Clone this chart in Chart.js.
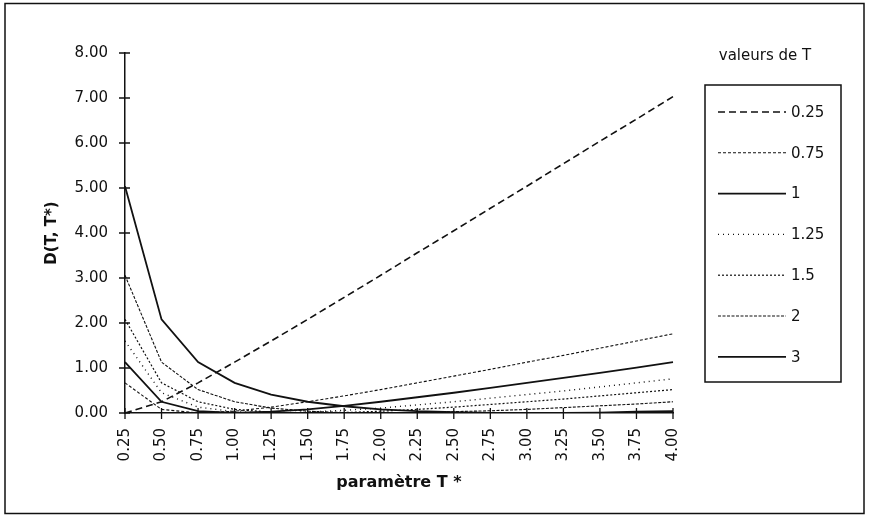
<!DOCTYPE html>
<html>
<head>
<meta charset="utf-8">
<script src="https://cdn.jsdelivr.net/npm/chart.js@4"></script>
<style>
  html, body { margin: 0; padding: 0; background: #fff; }
  #wrap { width: 869px; height: 520px; }
</style>
</head>
<body>
<div id="wrap"><canvas id="dChart" width="869" height="520"></canvas></div>
<script>
// valeurs
const tStarLabels = ['0.25', '0.50', '0.75', '1.00', '1.25', '1.50', '1.75', '2.00',
                     '2.25', '2.50', '2.75', '3.00', '3.25', '3.50', '3.75', '4.00'];
const seriesNames = ['0.25', '0.75', '1', '1.25', '1.5', '2', '3'];
const yTicks = [0, 1, 2, 3, 4, 5, 6, 7, 8];

const dT025 = [0, 0.25, 0.67, 1.13, 1.60, 2.08, 2.57, 3.06, 3.56, 4.05, 4.55, 5.04, 5.54, 6.04, 6.53, 7.03];
const dT075 = [0.67, 0.08, 0, 0.04, 0.13, 0.25, 0.38, 0.52, 0.67, 0.82, 0.97, 1.13, 1.28, 1.44, 1.60, 1.76];
const dT1   = [1.13, 0.25, 0.04, 0, 0.03, 0.08, 0.16, 0.25, 0.35, 0.45, 0.56, 0.67, 0.78, 0.89, 1.01, 1.13];
const dT125 = [1.60, 0.45, 0.13, 0.03, 0, 0.02, 0.06, 0.11, 0.18, 0.25, 0.33, 0.41, 0.49, 0.58, 0.67, 0.76];
const dT15  = [2.08, 0.67, 0.25, 0.08, 0.02, 0, 0.01, 0.04, 0.08, 0.13, 0.19, 0.25, 0.31, 0.38, 0.45, 0.52];
const dT2   = [3.06, 1.13, 0.52, 0.25, 0.11, 0.04, 0.01, 0, 0.01, 0.03, 0.05, 0.08, 0.12, 0.16, 0.20, 0.25];
const dT3   = [5.04, 2.08, 1.13, 0.67, 0.41, 0.25, 0.15, 0.08, 0.04, 0.02, 0, 0, 0, 0.01, 0.03, 0.04];

const FONT = "'DejaVu Sans', sans-serif";
const INK = '#111';

// styles des courbes (noir, tirets differents)
const lineStyles = [
  { dash: [7, 4], width: 1.6 },
  { dash: [3, 2], width: 1.1 },
  { dash: [], width: 1.8 },
  { dash: [1, 4], width: 1.4 },
  { dash: [2, 2], width: 1.2 },
  { dash: [3, 1.5], width: 1.1 },
  { dash: [], width: 1.8 }
];
const allSeries = [dT025, dT075, dT1, dT125, dT15, dT2, dT3];

const datasets = allSeries.map((vals, i) => ({
  label: seriesNames[i],
  data: vals,
  borderColor: INK,
  borderWidth: lineStyles[i].width,
  borderDash: lineStyles[i].dash,
  pointRadius: 0,
  fill: false,
  tension: 0
}));

// cadre exterieur, graduations croisees et legende encadree
const decorPlugin = {
  id: 'decor',
  beforeDraw(chart) {
    const c = chart.ctx;
    c.save();
    c.fillStyle = '#fff';
    c.fillRect(0, 0, chart.width, chart.height);
    c.restore();
  },
  afterDraw(chart) {
    const c = chart.ctx;
    const xs = chart.scales.x, ys = chart.scales.y;
    const area = chart.chartArea;
    c.save();
    c.strokeStyle = INK;
    c.setLineDash([]);
    // cadre
    c.lineWidth = 1.5;
    c.strokeRect(5, 3.5, 859, 510);
    // graduations
    c.lineWidth = 1.3;
    c.beginPath();
    ys.ticks.forEach((t, i) => {
      const y = ys.getPixelForTick(i);
      c.moveTo(area.left - 6, y);
      c.lineTo(area.left + 5, y);
    });
    xs.ticks.forEach((t, i) => {
      const x = xs.getPixelForTick(i);
      c.moveTo(x, area.bottom - 5);
      c.lineTo(x, area.bottom + 6);
    });
    c.stroke();

    // legende
    c.fillStyle = INK;
    c.font = '15px ' + FONT;
    c.textBaseline = 'middle';
    c.textAlign = 'center';
    c.fillText('valeurs de T', 765, 56);
    c.lineWidth = 1.5;
    c.strokeRect(705, 85, 136, 297);
    c.textAlign = 'left';
    chart.data.datasets.forEach((ds, i) => {
      const y = 112 + i * 40.8;
      c.beginPath();
      c.lineWidth = ds.borderWidth;
      c.setLineDash(ds.borderDash);
      c.moveTo(718, y);
      c.lineTo(786, y);
      c.stroke();
      c.setLineDash([]);
      c.fillText(ds.label, 791, y + 1);
    });
    c.restore();
  }
};

new Chart(document.getElementById('dChart'), {
  type: 'line',
  data: { labels: tStarLabels, datasets: datasets },
  options: {
    responsive: false,
    animation: false,
    devicePixelRatio: 1,
    layout: { padding: { top: 53, right: 196, left: 0, bottom: 0 } },
    plugins: {
      legend: { display: false },
      tooltip: { enabled: false }
    },
    scales: {
      x: {
        type: 'category',
        offset: false,
        grid: { drawOnChartArea: false, drawTicks: false },
        border: { display: true, color: INK, width: 1.5 },
        ticks: {
          autoSkip: false,
          minRotation: 90,
          maxRotation: 90,
          padding: 15,
          color: INK,
          font: { family: FONT, size: 15 }
        },
        title: {
          display: true,
          text: 'paramètre T *',
          color: INK,
          font: { family: FONT, size: 16, weight: 'bold' },
          padding: { top: 0, bottom: 28 }
        },
        afterFit(scale) { scale.height = 107; }
      },
      y: {
        min: 0,
        max: 8,
        afterBuildTicks(scale) { scale.ticks = yTicks.map(v => ({ value: v })); },
        grid: { drawOnChartArea: false, drawTicks: false },
        border: { display: true, color: INK, width: 1.5 },
        ticks: {
          padding: 17,
          color: INK,
          font: { family: FONT, size: 15 },
          callback: v => Number(v).toFixed(2)
        },
        title: {
          display: true,
          text: 'D(T, T*)',
          color: INK,
          font: { family: FONT, size: 15, weight: 'bold' },
          padding: { top: 43, bottom: 0 }
        },
        afterFit(scale) { scale.width = 125; }
      }
    }
  },
  plugins: [decorPlugin]
});
</script>
</body>
</html>
